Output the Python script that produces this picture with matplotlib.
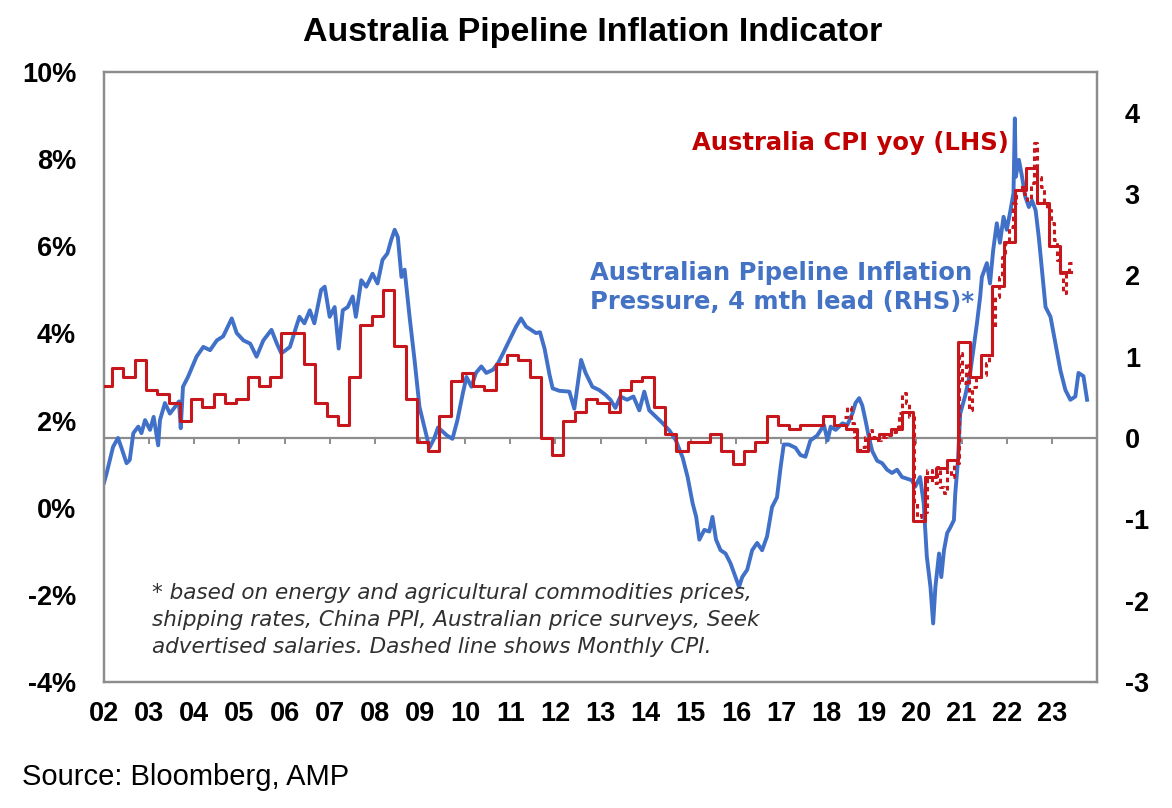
import numpy as np
import matplotlib
matplotlib.use("Agg")
import matplotlib.pyplot as plt

plt.rcParams['font.family'] = ['Liberation Sans', 'DejaVu Sans']

# Australia CPI yoy, quarterly (LHS, %) - each value held for one quarter
cpi_start = 2001.93
cpi_q = [2.8, 3.2, 3.0, 3.4, 2.7, 2.6, 2.4, 2.0, 2.5, 2.3, 2.6, 2.4,
         2.5, 3.0, 2.8, 3.0, 4.0, 4.0, 3.3, 2.4, 2.1, 1.9, 3.0, 4.2,
         4.4, 5.0, 3.7, 2.5, 1.5, 1.3, 2.1, 2.9, 3.1, 2.8, 2.7, 3.3,
         3.5, 3.4, 3.0, 1.6, 1.2, 2.0, 2.2, 2.5, 2.4, 2.2, 2.7, 2.9,
         3.0, 2.3, 1.7, 1.3, 1.5, 1.5, 1.7, 1.3, 1.0, 1.3, 1.5, 2.1,
         1.9, 1.8, 1.9, 1.9, 2.1, 1.9, 1.8, 1.3, 1.6, 1.7, 1.8, 2.2,
         -0.3, 0.7, 0.9, 1.1, 3.8, 3.0, 3.5, 5.1, 6.1, 7.3, 7.8, 7.0,
         6.0, 5.4]

# monthly CPI indicator (LHS, %) - dashed
mcpi_t = [2018.39, 2018.47, 2018.54, 2018.62, 2018.69, 2018.80, 2018.87, 2018.95,
          2019.02, 2019.10, 2019.21, 2019.32, 2019.43, 2019.54, 2019.62, 2019.69,
          2019.76, 2019.84, 2019.94, 2020.02, 2020.10, 2020.24, 2020.35, 2020.46,
          2020.53, 2020.61, 2020.68, 2020.76, 2020.83, 2020.94, 2021.02, 2021.09,
          2021.16, 2021.24, 2021.31, 2021.42, 2021.53, 2021.60, 2021.67, 2021.75,
          2021.82, 2021.90, 2021.97, 2022.04, 2022.13, 2022.20, 2022.30, 2022.38,
          2022.45, 2022.53, 2022.60, 2022.67, 2022.75, 2022.82, 2022.90, 2022.97,
          2023.04, 2023.12, 2023.19, 2023.24, 2023.32, 2023.39, 2023.45]
mcpi_v = [2.08, 2.31, 1.94, 1.62, 1.32, 1.39, 1.62, 1.78,
          1.62, 1.55, 1.62, 1.66, 1.74, 1.85, 2.17, 2.63,
          2.40, 2.08, 0.11, -0.21, -0.10, 0.87, 0.57, 0.93,
          0.48, 0.34, 0.87, 0.70, 1.03, 3.55, 2.86, 3.32,
          2.24, 2.77, 3.00, 3.05, 3.32, 3.45, 4.15, 4.84,
          5.30, 5.76, 6.07, 6.44, 6.99, 7.29, 7.36, 7.21,
          7.06, 7.45, 8.37, 7.60, 7.36, 6.99, 6.84, 6.53,
          6.14, 5.68, 5.38, 4.93, 5.38, 5.61, 5.61]

# pipeline inflation pressure, 4 mth lead (RHS)
pip_t = [2002.00, 2002.06, 2002.20, 2002.31, 2002.38, 2002.50, 2002.57, 2002.65,
         2002.76, 2002.83, 2002.91, 2003.02, 2003.10, 2003.20, 2003.24, 2003.35,
         2003.46, 2003.57, 2003.66, 2003.70, 2003.75, 2003.86, 2004.05, 2004.20,
         2004.35, 2004.50, 2004.64, 2004.83, 2004.94, 2005.09, 2005.24, 2005.38,
         2005.53, 2005.71, 2005.83, 2005.93, 2006.12, 2006.26, 2006.33, 2006.44,
         2006.56, 2006.66, 2006.81, 2006.89, 2007.00, 2007.11, 2007.20, 2007.29,
         2007.40, 2007.51, 2007.58, 2007.70, 2007.81, 2007.95, 2008.06, 2008.17,
         2008.28, 2008.36, 2008.44, 2008.51, 2008.59, 2008.66, 2008.77, 2008.88,
         2008.99, 2009.10, 2009.21, 2009.32, 2009.40, 2009.50, 2009.60, 2009.72,
         2009.83, 2009.95, 2010.03, 2010.14, 2010.24, 2010.36, 2010.47, 2010.62,
         2010.73, 2010.84, 2010.98, 2011.13, 2011.24, 2011.35, 2011.46, 2011.57,
         2011.66, 2011.76, 2011.87, 2011.94, 2012.09, 2012.31, 2012.42, 2012.57,
         2012.67, 2012.82, 2012.97, 2013.11, 2013.22, 2013.33, 2013.44, 2013.59,
         2013.73, 2013.86, 2013.97, 2014.08, 2014.23, 2014.38, 2014.53, 2014.67,
         2014.82, 2014.93, 2015.04, 2015.12, 2015.19, 2015.30, 2015.41, 2015.48,
         2015.56, 2015.66, 2015.77, 2015.88, 2015.99, 2016.07, 2016.14, 2016.25,
         2016.36, 2016.47, 2016.58, 2016.69, 2016.80, 2016.91, 2016.99, 2017.06,
         2017.17, 2017.32, 2017.43, 2017.54, 2017.65, 2017.80, 2017.95, 2018.03,
         2018.10, 2018.21, 2018.36, 2018.47, 2018.58, 2018.65, 2018.73, 2018.80,
         2018.87, 2018.95, 2019.02, 2019.13, 2019.24, 2019.35, 2019.46, 2019.57,
         2019.68, 2019.79, 2019.90, 2019.97, 2020.08, 2020.16, 2020.23, 2020.31,
         2020.37, 2020.42, 2020.50, 2020.55, 2020.61, 2020.68, 2020.75, 2020.83,
         2020.86, 2020.92, 2020.97, 2021.08, 2021.19, 2021.26, 2021.34, 2021.41,
         2021.45, 2021.56, 2021.63, 2021.70, 2021.78, 2021.85, 2021.93, 2022.00,
         2022.07, 2022.15, 2022.18, 2022.20, 2022.27, 2022.34, 2022.41, 2022.49,
         2022.56, 2022.64, 2022.71, 2022.78, 2022.86, 2022.97, 2023.08, 2023.19,
         2023.30, 2023.41, 2023.52, 2023.59, 2023.70, 2023.78]
pip_v = [-0.55, -0.43, -0.11, 0.00, -0.11, -0.31, -0.27, 0.06,
         0.14, 0.06, 0.22, 0.10, 0.26, -0.09, 0.22, 0.43,
         0.30, 0.38, 0.45, 0.12, 0.63, 0.75, 1.00, 1.12,
         1.08, 1.20, 1.25, 1.47, 1.29, 1.20, 1.16, 1.00,
         1.20, 1.33, 1.16, 1.04, 1.12, 1.37, 1.49, 1.41,
         1.57, 1.41, 1.82, 1.86, 1.49, 1.61, 1.10, 1.57,
         1.61, 1.74, 1.49, 1.94, 1.86, 2.02, 1.90, 2.19,
         2.27, 2.43, 2.56, 2.47, 1.98, 2.07, 1.49, 0.96,
         0.38, 0.13, -0.12, 0.00, 0.13, 0.08, 0.03, -0.01,
         0.22, 0.55, 0.75, 0.63, 0.80, 0.88, 0.80, 0.84,
         0.92, 1.04, 1.20, 1.37, 1.47, 1.37, 1.33, 1.29,
         1.30, 1.10, 0.78, 0.61, 0.58, 0.57, 0.36, 0.96,
         0.80, 0.63, 0.59, 0.53, 0.47, 0.37, 0.51, 0.47,
         0.51, 0.34, 0.57, 0.34, 0.26, 0.18, 0.09, -0.03,
         -0.24, -0.48, -0.80, -0.97, -1.25, -1.13, -1.15, -0.97,
         -1.25, -1.38, -1.42, -1.54, -1.71, -1.83, -1.71, -1.62,
         -1.38, -1.29, -1.38, -1.21, -0.85, -0.73, -0.36, -0.08,
         -0.08, -0.12, -0.21, -0.23, -0.03, 0.03, 0.16, -0.03,
         0.14, 0.10, 0.18, 0.16, 0.30, 0.43, 0.49, 0.40,
         0.22, 0.00, -0.16, -0.28, -0.31, -0.39, -0.43, -0.39,
         -0.48, -0.50, -0.52, -0.60, -0.48, -0.80, -1.46, -1.83,
         -2.28, -1.83, -1.42, -1.71, -1.38, -1.17, -1.10, -1.01,
         -0.68, -0.28, 0.30, 0.52, 0.80, 1.08, 1.41, 1.73,
         1.98, 2.15, 1.90, 2.31, 2.64, 2.40, 2.72, 2.56,
         2.76, 3.01, 3.93, 3.21, 3.42, 3.21, 2.97, 2.84,
         2.92, 2.80, 2.47, 2.07, 1.61, 1.49, 1.16, 0.83,
         0.59, 0.47, 0.51, 0.80, 0.76, 0.47]

years = list(range(2002, 2024))
year_labels = [f"{y % 100:02d}" for y in years]
lhs_ticks = [-4, -2, 0, 2, 4, 6, 8, 10]
lhs_labels = [f"{t}%" for t in lhs_ticks]
rhs_ticks = [-3, -2, -1, 0, 1, 2, 3, 4]

RED = '#C8161D'
BLUE = '#4070C8'
GREY = '#8C8C8C'
WIDE = ['DejaVu Sans']

fig = plt.figure(figsize=(11.72, 8.08), dpi=100)
ax = fig.add_axes([104 / 1172, 1 - 682 / 808, 993 / 1172, 610 / 808])
ax2 = ax.twinx()

cpi_x = cpi_start + 0.25 * np.arange(len(cpi_q) + 1)
cpi_y = cpi_q + [cpi_q[-1]]
ax.plot(cpi_x, cpi_y, drawstyle='steps-post', color=RED, lw=2.2, zorder=3)
ax.plot(mcpi_t, mcpi_v, drawstyle='steps-post', color=RED, lw=2.2,
        dashes=(1.5, 1.2), zorder=3)

ax2.axhline(0, color=GREY, lw=1.6, zorder=1)
ax2.vlines(years, -0.075, 0, color=GREY, lw=1.4, zorder=1)
ax2.plot(pip_t, pip_v, color=BLUE, lw=2.8, zorder=2)

ax.set_xlim(2002, 2024)
ax.set_ylim(-4, 10)
ax2.set_ylim(-3, 4.5)

ax.set_xticks(years)
ax.set_xticklabels(year_labels)
ax.set_yticks(lhs_ticks)
ax.set_yticklabels(lhs_labels)
ax2.set_yticks(rhs_ticks)
ax2.set_yticklabels([str(t) for t in rhs_ticks])

ax.tick_params(axis='x', length=0, pad=14, labelsize=19.5)
ax.tick_params(axis='y', length=0, pad=20, labelsize=19.5)
ax2.tick_params(axis='y', length=0, pad=20, labelsize=19.5)
for lab in ax.get_xticklabels() + ax.get_yticklabels() + ax2.get_yticklabels():
    lab.set_fontweight('bold')

for a in (ax, ax2):
    for s in a.spines.values():
        s.set_color(GREY)
        s.set_linewidth(1.6)

ax2.set_zorder(ax.get_zorder() - 1)
ax.patch.set_visible(False)

ax.text(0.592, 0.884, "Australia CPI yoy (LHS)", transform=ax.transAxes,
        color='#C00000', fontsize=17.5, fontweight='bold', family=WIDE,
        va='center', ha='left')
ax.text(0.489, 0.69, "Australian Pipeline Inflation\nPressure, 4 mth lead (RHS)*",
        transform=ax.transAxes, color='#4472C4', fontsize=17.5, fontweight='bold',
        family=WIDE, va='top', ha='left', linespacing=1.25)
ax.text(0.048, 0.162,
        "* based on energy and agricultural commodities prices,\n"
        "shipping rates, China PPI, Australian price surveys, Seek\n"
        "advertised salaries. Dashed line shows Monthly CPI.",
        transform=ax.transAxes, color='#303030', fontsize=15.5, style='italic',
        family=WIDE, va='top', ha='left', linespacing=1.42)

fig.text(593 / 1172, 1 - 33 / 808, "Australia Pipeline Inflation Indicator",
         ha='center', va='center', fontsize=24.5, fontweight='bold')
fig.text(22 / 1172, 1 - 777 / 808, "Source: Bloomberg, AMP",
         ha='left', va='center', fontsize=21)

fig.savefig("out.png", dpi=100)
